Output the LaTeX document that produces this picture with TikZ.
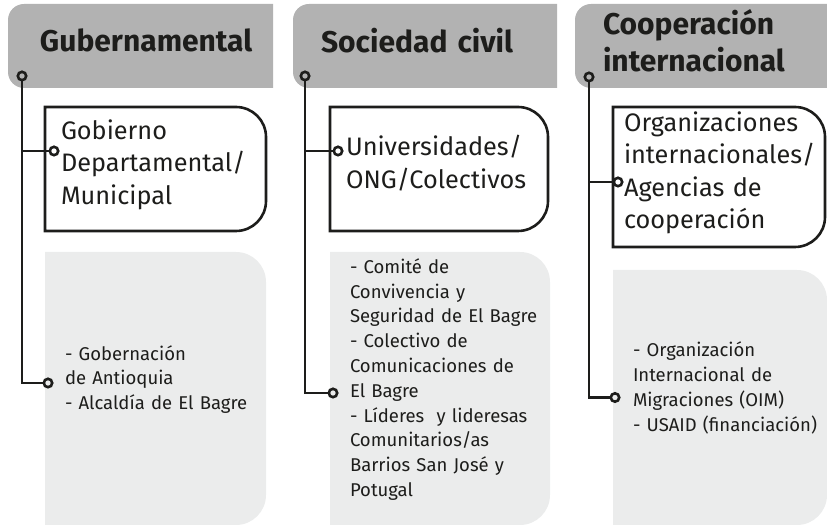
\documentclass[tikz,border=0pt]{standalone}
\usepackage{fontspec}
\setmainfont{Fira Sans}
\usetikzlibrary{arrows.meta,backgrounds}
\definecolor{headgray}{HTML}{B2B2B2}
\definecolor{boxgray}{HTML}{EBECEC}
\definecolor{ink}{HTML}{1D1D1B}
\hyphenpenalty=10000
\exhyphenpenalty=10000
\newcommand{\headshape}[1]{%
    \fill[headgray] (#1.north east) -- ([xshift=16pt]#1.north west)
        arc[start angle=90,end angle=180,radius=16pt]
        -- ([yshift=16pt]#1.south west)
        arc[start angle=180,end angle=270,radius=16pt]
        -- (#1.south east) -- cycle;}
\newcommand{\boxshape}[2]{%
    \path[#1] (#2.south west) -- (#2.north west) -- ([xshift=-30pt]#2.north east)
        arc[start angle=90,end angle=0,radius=30pt]
        -- ([yshift=30pt]#2.south east)
        arc[start angle=0,end angle=-90,radius=30pt] -- cycle;}
\tikzset{
    head/.style={text width=#1-8pt, inner xsep=4pt, inner ysep=0pt,
        minimum height=84pt, outer sep=0pt, text=ink,
        font=\bfseries\fontsize{30}{37}\selectfont,
        execute at begin node={\raggedright\leftskip=24pt},
        execute at end node={\rule[-12pt]{0pt}{0pt}}},
    wbox/.style={text width=#1-4pt, inner xsep=2pt, inner ysep=0pt,
        minimum height=124pt, outer sep=0pt, text=ink,
        font=\fontsize{25.3}{32.5}\selectfont,
        execute at begin node={\raggedright\leftskip=14pt},
        execute at end node={\rule[-14pt]{0pt}{0pt}}},
    gbox/.style={text width=#1-4pt, inner xsep=2pt, inner ysep=0pt,
        minimum height=273pt, outer sep=0pt, text=ink,
        font=\fontsize{18.5}{24.8}\selectfont,
        execute at begin node={\raggedright\leftskip=18pt},
        execute at end node={\rule[-22pt]{0pt}{0pt}}},
    link/.style={line width=2.6pt, ink},
    knob/.tip={Circle[open,length=11pt,width=11pt]}
}
\begin{document}
\begin{tikzpicture}[x=1pt,y=1pt]
                \useasboundingbox (0,0) rectangle (827,526);

                \node[head=265pt,
                    execute at begin node={\raggedright\leftskip=28pt}] (hGub) at (140.5,480) {Gubernamental};
                \node[head=264pt] (hSoc) at (425,480) {Sociedad civil};
                \node[head=252pt] (hCoo) at (701,480) {Cooperación\\internacional};

                \node[wbox=221pt] (wGub) at (155.5,357) 
                    {Gobierno\\Departamental/\\Municipal};
                \node[wbox=218pt] (wSoc) at (439,357) 
                    {Universidades/\\ONG/Colectivos};
                \node[wbox=212pt, minimum height=140pt,
                    execute at begin node={\raggedright\leftskip=9pt}] (wCoo) at (719,349) 
                    {Organizaciones\\internacionales/\\Agencias de\\cooperación};

                \node[gbox=221pt] (gGub) at (155.5,137.5) 
                    {- Gobernación\\de Antioquia\\- Alcaldía de El Bagre};
                \node[gbox=220pt] (gSoc) at (440,137.5) 
                    {- Comité de\\Convivencia y\\Seguridad de El Bagre\\- Colectivo de\\Comunicaciones de\\El Bagre\\- Líderes \ y lideresas\\Comunitarios/as\\Barrios San José y\\Potugal};
                \node[gbox=214pt, minimum height=255pt] (gCoo) at (720,128.5) 
                    {- Organización\\Internacional de\\Migraciones (OIM)\\- USAID (financiación)};

                \begin{scope}[on background layer]
                    \headshape{hGub}
                    \headshape{hSoc}
                    \headshape{hCoo}
                    \boxshape{fill=boxgray}{gGub}
                    \boxshape{fill=boxgray}{gSoc}
                    \boxshape{fill=boxgray}{gCoo}
                    \boxshape{draw=ink,line width=2.6pt}{wGub}
                    \boxshape{draw=ink,line width=2.6pt}{wSoc}
                    \boxshape{draw=ink,line width=2.6pt}{wCoo}
                \end{scope}

                \coordinate (pGub) at ([xshift=14pt,yshift=17.5pt]hGub.south west);
                \coordinate (wGubIn) at ([xshift=14.5pt,yshift=18pt]wGub.west);
                \coordinate (gGubIn) at ([xshift=8.5pt,yshift=5.5pt]gGub.west);
                \draw[link,{knob}-{knob}] (pGub) |- (gGubIn);
                \draw[link,-{knob}] (pGub |- wGubIn) -- (wGubIn);

                \coordinate (pSoc) at ([xshift=12pt,yshift=17.5pt]hSoc.south west);
                \coordinate (wSocIn) at ([xshift=13.5pt,yshift=18pt]wSoc.west);
                \coordinate (gSocIn) at ([xshift=8.5pt,yshift=-4.5pt]gSoc.west);
                \draw[link,{knob}-{knob}] (pSoc) |- (gSocIn);
                \draw[link,-{knob}] (pSoc |- wSocIn) -- (wSocIn);

                \coordinate (pCoo) at ([xshift=14pt,yshift=16.5pt]hCoo.south west);
                \coordinate (wCooIn) at ([xshift=10.5pt,yshift=-5pt]wCoo.west);
                \coordinate (gCooIn) at ([xshift=7.5pt]gCoo.west);
                \draw[link,{knob}-{knob}] (pCoo) |- (gCooIn);
                \draw[link,-{knob}] (pCoo |- wCooIn) -- (wCooIn);
\end{tikzpicture}
\end{document}
